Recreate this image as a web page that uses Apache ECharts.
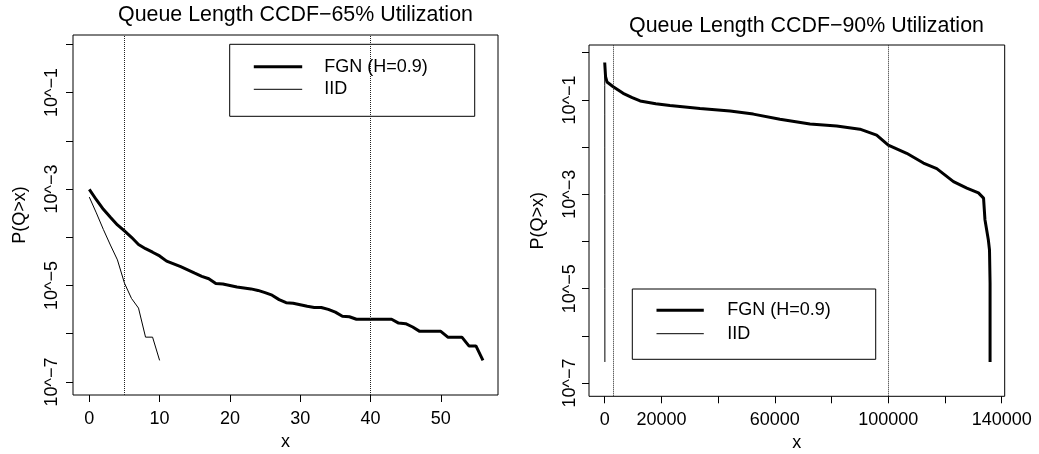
<!DOCTYPE html>
<html>
<head>
<meta charset="utf-8">
<script src="https://cdn.jsdelivr.net/npm/echarts@6/dist/echarts.min.js"></script>
<style>
html,body{margin:0;padding:0;background:#fff;}
#chart{width:1039px;height:454px;}
</style>
</head>
<body>
<div id="chart"></div>
<script>
// ---------- data ----------
const titles = ['Queue Length CCDF\u221265% Utilization', 'Queue Length CCDF\u221290% Utilization'];
const seriesNames = ['FGN (H=0.9)', 'IID'];

// Left panel (65% utilization): queue length x and P(Q>x)
const leftFgnX = [0,1,2,3,4,5,6,7,8,9,10,11,12,13,14,15,16,17,18,19,20,21,22,23,24,25,26,27,28,29,30,31,32,33,34,35,36,37,38,39,40,41,42,43,44,45,46,47,48,49,50,51,52,53,54,55,56];
const leftFgnP = [9.8e-4,6.0e-4,3.8e-4,2.6e-4,1.8e-4,1.35e-4,1.0e-4,7.1e-5,5.8e-5,4.9e-5,4.1e-5,3.2e-5,2.8e-5,2.45e-5,2.1e-5,1.8e-5,1.55e-5,1.38e-5,1.1e-5,1.07e-5,1.0e-5,9.3e-6,8.9e-6,8.5e-6,7.9e-6,7.1e-6,6.3e-6,5.1e-6,4.4e-6,4.3e-6,4.0e-6,3.7e-6,3.5e-6,3.5e-6,3.2e-6,2.8e-6,2.3e-6,2.25e-6,2.0e-6,2.0e-6,2.0e-6,2.0e-6,2.0e-6,2.0e-6,1.66e-6,1.62e-6,1.38e-6,1.12e-6,1.12e-6,1.12e-6,1.12e-6,8.5e-7,8.5e-7,8.5e-7,5.6e-7,5.6e-7,2.8e-7];
const leftIidX = [0,1,2,3,4,5,6,7,8,9,10];
const leftIidP = [6.8e-4,3.2e-4,1.45e-4,6.9e-5,3.4e-5,1.12e-5,5.4e-6,3.4e-6,8.5e-7,8.5e-7,2.8e-7];
const leftRefLines = [5, 40];

// Right panel (90% utilization)
const rightFgnX = [0,300,800,3000,6500,9700,12500,18000,23000,33600,44200,52400,61800,72400,81800,90000,95900,100000,106500,112400,117100,123000,127700,131800,133600,134100,135300,135700,135900,135900];
const rightFgnP = [0.62,0.31,0.24,0.19,0.138,0.112,0.095,0.083,0.076,0.066,0.058,0.050,0.039,0.031,0.028,0.024,0.018,0.011,0.0074,0.0046,0.0035,0.00186,0.00135,0.00107,0.00083,0.00029,0.000107,6.6e-5,1.3e-5,2.8e-7];
const rightIidX = [0,10,20,30,40,50,60];
const rightIidP = [0.6,0.2,0.05,0.01,1e-3,1e-5,2.8e-7];
const rightRefLines = [3000, 100000];

// Axis ticks and labels
const yTickValues = [1,1e-1,1e-2,1e-3,1e-4,1e-5,1e-6,1e-7];
const yLabelValues = [1e-1,1e-3,1e-5,1e-7];
const yLabelTexts = ['10^\u22121','10^\u22123','10^\u22125','10^\u22127'];
const leftXTicks = [0,10,20,30,40,50];
const leftXLabels = [0,10,20,30,40,50];
const rightXTicks = [0,20000,40000,60000,80000,100000,120000,140000];
const rightXLabels = [0,20000,60000,100000,140000];
const xName = 'x';
const yName = 'P(Q>x)';

// ---------- chart ----------
const FONT = "'Liberation Sans', Arial, Helvetica, sans-serif";
function pairs(xs, ys){ return xs.map((x,i)=>[x, ys[i]]); }
function yFmt(v){
  for (let i=0;i<yLabelValues.length;i++){
    if (Math.abs(Math.log10(v) - Math.log10(yLabelValues[i])) < 1e-6) return yLabelTexts[i];
  }
  return '';
}

const gridL = {left:73, top:35, width:425, height:360};
const gridR = {left:589, top:45, width:415.7, height:351.3};

function xAxisCfg(gi, min, max, ticks, labels, margin, nameGap){
  return {
    type:'value', gridIndex:gi, min:min, max:max,
    name:xName, nameLocation:'middle', nameGap:nameGap,
    nameTextStyle:{fontFamily:FONT, fontSize:18, color:'#000'},
    axisLine:{show:false, onZero:false},
    splitLine:{show:false},
    axisTick:{show:true, inside:false, length:7, customValues:ticks, lineStyle:{color:'#000', width:1}},
    axisLabel:{show:true, customValues:labels, margin:margin, fontFamily:FONT, fontSize:18, color:'#000',
      formatter:(v)=>String(v)}
  };
}
function yAxisCfg(gi, minExp, maxExp, margin, nameGap){
  return {
    type:'log', logBase:10, gridIndex:gi,
    min:Math.pow(10,minExp), max:Math.pow(10,maxExp),
    name:yName, nameLocation:'middle', nameGap:nameGap,
    nameTextStyle:{fontFamily:FONT, fontSize:18, color:'#000'},
    axisLine:{show:false, onZero:false},
    splitLine:{show:false},
    minorTick:{show:false},
    axisTick:{show:true, inside:false, length:7, customValues:yTickValues, lineStyle:{color:'#000', width:1}},
    axisLabel:{show:true, customValues:yLabelValues, rotate:90, margin:margin, fontFamily:FONT, fontSize:18, color:'#000',
      formatter:yFmt}
  };
}
function refLine(vals){
  return {
    silent:true, symbol:['none','none'], label:{show:false},
    lineStyle:{type:'dotted', color:'#222', width:1},
    data: vals.map(v=>({xAxis:v}))
  };
}
function legendItems(){
  return [
    {name:seriesNames[0], itemStyle:{opacity:0, color:'transparent', borderWidth:0}, lineStyle:{width:3, color:'#000'}},
    {name:seriesNames[1], itemStyle:{opacity:0, color:'transparent', borderWidth:0}, lineStyle:{width:1, color:'#000'}}
  ];
}

const chart = echarts.init(document.getElementById('chart'), null, {renderer:'canvas'});
chart.setOption({
  animation:false,
  backgroundColor:'#fff',
  title:[
    {text:titles[0], left:118, top:5, padding:0, textStyle:{fontFamily:FONT, fontSize:21.4, fontWeight:'normal', color:'#000'}},
    {text:titles[1], left:629, top:16, padding:0, textStyle:{fontFamily:FONT, fontSize:21.4, fontWeight:'normal', color:'#000'}}
  ],
  legend:[
    {data:legendItems(), orient:'vertical', left:229.7, top:44.3, padding:[13.4,47,18,22.6],
     itemWidth:48.4, itemHeight:18, itemGap:4.6, borderColor:'#000', borderWidth:1, borderRadius:0,
     selectedMode:false,
     textStyle:{fontFamily:FONT, fontSize:18, color:'#000', padding:[0,0,0,17]}},
    {data:legendItems(), orient:'vertical', left:632.3, top:289, padding:[12.3,45,16.6,22.7],
     itemWidth:47.3, itemHeight:18, itemGap:5.4, borderColor:'#000', borderWidth:1, borderRadius:0,
     selectedMode:false,
     textStyle:{fontFamily:FONT, fontSize:18, color:'#000', padding:[0,0,0,18.4]}}
  ],
  grid:[
    Object.assign({show:true, borderColor:'#000', borderWidth:1, backgroundColor:'transparent', containLabel:false, outerBoundsMode:'none'}, gridL),
    Object.assign({show:true, borderColor:'#000', borderWidth:1, backgroundColor:'transparent', containLabel:false, outerBoundsMode:'none'}, gridR)
  ],
  xAxis:[
    xAxisCfg(0, -2.32, 58.14, leftXTicks, leftXLabels, 15, 33),
    xAxisCfg(1, -5540, 141060, rightXTicks, rightXLabels, 15, 35)
  ],
  yAxis:[
    yAxisCfg(0, -7.27, 0.193, 12.4, 44),
    yAxisCfg(1, -7.28, 0.163, 10, 42)
  ],
  series:[
    {name:seriesNames[0], type:'line', xAxisIndex:0, yAxisIndex:0, data:pairs(leftFgnX,leftFgnP),
     symbol:'none', lineStyle:{color:'#000', width:3}, itemStyle:{color:'#000'}, markLine:refLine(leftRefLines)},
    {name:seriesNames[1], type:'line', xAxisIndex:0, yAxisIndex:0, data:pairs(leftIidX,leftIidP),
     symbol:'none', lineStyle:{color:'#000', width:1}, itemStyle:{color:'#000'}},
    {name:seriesNames[0], type:'line', xAxisIndex:1, yAxisIndex:1, data:pairs(rightFgnX,rightFgnP),
     symbol:'none', lineStyle:{color:'#000', width:3}, itemStyle:{color:'#000'}, markLine:refLine(rightRefLines)},
    {name:seriesNames[1], type:'line', xAxisIndex:1, yAxisIndex:1, data:pairs(rightIidX,rightIidP),
     symbol:'none', lineStyle:{color:'#000', width:1}, itemStyle:{color:'#000'}}
  ]
});
</script>
</body>
</html>
